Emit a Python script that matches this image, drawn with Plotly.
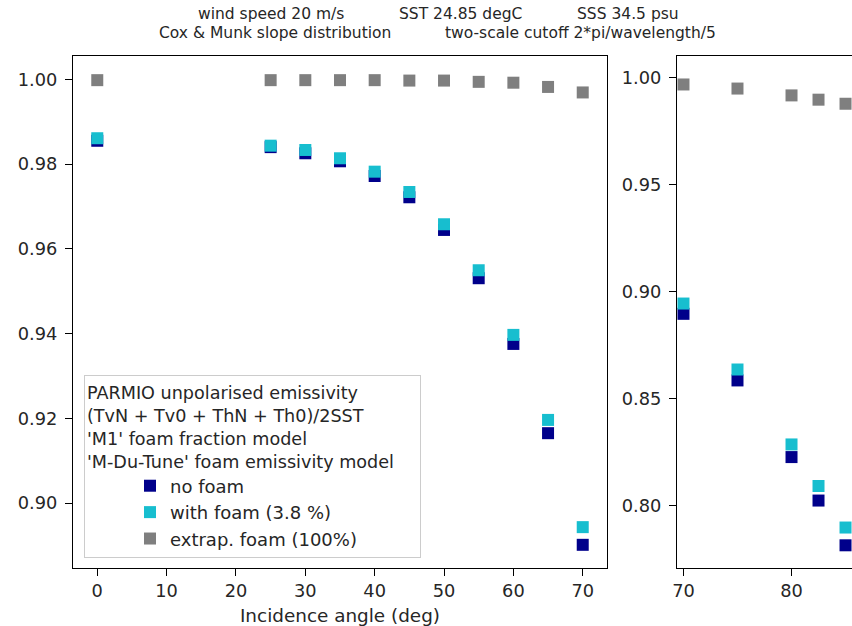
import plotly.graph_objects as go

# ---- data ----
angles_left = [0, 25, 30, 35, 40, 45, 50, 55, 60, 65, 70]
no_foam_left = [0.9855, 0.9840, 0.98255, 0.98066, 0.97719, 0.97217, 0.96446, 0.95307, 0.93757, 0.91651, 0.89017]
with_foam_left = [0.9861, 0.98434, 0.98333, 0.98137, 0.97821, 0.97342, 0.9658, 0.95495, 0.9397, 0.91964, 0.89434]
extrap_left = [0.9998, 0.9998, 0.9998, 0.9998, 0.9998, 0.9997, 0.9997, 0.9994, 0.9992, 0.9982, 0.9969]

angles_right = [70, 75, 80, 82.5, 85]
no_foam_right = [0.8897, 0.8586, 0.8228, 0.8025, 0.7816]
with_foam_right = [0.8945, 0.8637, 0.8287, 0.8093, 0.7899]
extrap_right = [0.9968, 0.9949, 0.9917, 0.9897, 0.9878]

series_names = ["no foam", "with foam (3.8 %)", "extrap. foam (100%)"]
series_colors = ["#00008b", "#17becf", "#7f7f7f"]

legend_title = ("PARMIO unpolarised emissivity<br>(TvN + Tv0 + ThN + Th0)/2SST<br>"
                "'M1' foam fraction model<br>'M-Du-Tune' foam emissivity model")

W, H = 852, 626
ML, MR, MT, MB = 73, 0, 56, 58
PW = W - ML - MR
PH = H - MT - MB
FONT = "DejaVu Sans"
TXT = "#262626"
PAD = "\u00a0" * 10  # widens the legend box to match the reference


def px_x(p):
    return (p - ML) / PW


def px_y(p):
    return (H - MB - p) / PH


fig = go.Figure()
left_sets = [no_foam_left, with_foam_left, extrap_left]
right_sets = [no_foam_right, with_foam_right, extrap_right]
order = [2, 0, 1]  # draw grey, navy, then cyan on top
for i in order:
    fig.add_trace(go.Scatter(
        x=angles_left, y=left_sets[i], mode="markers", name=series_names[i] + (PAD if i == 2 else ""),
        marker=dict(symbol="square", size=12, color=series_colors[i], line=dict(width=0)),
        xaxis="x", yaxis="y", legendrank=i + 1, showlegend=True))
for i in order:
    fig.add_trace(go.Scatter(
        x=angles_right, y=right_sets[i], mode="markers", name=series_names[i],
        marker=dict(symbol="square", size=12, color=series_colors[i], line=dict(width=0)),
        xaxis="x2", yaxis="y2", showlegend=False))

axis_common = dict(
    showline=True, linecolor="black", linewidth=1.2, ticks="outside", ticklen=7,
    tickwidth=1.2, tickcolor="black", showgrid=False, zeroline=False,
    tickfont=dict(family=FONT, size=17.8, color=TXT),
)

fig.update_layout(
    width=W, height=H,
    margin=dict(l=ML, r=MR, t=MT, b=MB),
    paper_bgcolor="white", plot_bgcolor="white",
    font=dict(family=FONT, size=18, color=TXT),
    xaxis=dict(domain=[0, px_x(607)], range=[-3.5, 73.5], tickvals=list(range(0, 71, 10)),
               mirror=True, anchor="y",
               title=dict(text="Incidence angle (deg)", standoff=8,
                          font=dict(family=FONT, size=18.4, color=TXT)),
               **axis_common),
    yaxis=dict(domain=[0, 1], range=[0.8847, 1.0055], tickvals=[0.90, 0.92, 0.94, 0.96, 0.98, 1.00],
               tickformat=".2f", mirror=True, anchor="x", ticklabelstandoff=4, **axis_common),
    xaxis2=dict(domain=[px_x(677), 1], range=[69.4, 85.6], tickvals=[70, 80, 90],
                mirror=True, anchor="y2", **axis_common),
    yaxis2=dict(domain=[0, 1], range=[0.771, 1.0101], tickvals=[0.80, 0.85, 0.90, 0.95, 1.00],
                tickformat=".2f", mirror=False, anchor="x2", ticklabelstandoff=4, **axis_common),
    legend=dict(
        x=px_x(84), y=px_y(375), xanchor="left", yanchor="top",
        bgcolor="white", bordercolor="#cccccc", borderwidth=1,
        font=dict(family=FONT, size=18, color=TXT),
        title=dict(text=legend_title, side="top",
                   font=dict(family=FONT, size=17.6, color=TXT)),
        indentation=45, tracegroupgap=0,
    ),
    showlegend=True,
)

header_pieces = [
    ("wind speed 20 m/s", 196, 14),
    ("SST 24.85 degC", 397, 14),
    ("SSS 34.5 psu", 575, 14),
    ("Cox & Munk slope distribution", 157, 33),
    ("two-scale cutoff 2*pi/wavelength/5", 443, 33),
]
for txt, xp, yp in header_pieces:
    fig.add_annotation(text=txt, xref="paper", yref="paper", x=px_x(xp), y=px_y(yp),
                       xanchor="left", yanchor="middle", showarrow=False,
                       font=dict(family=FONT, size=15.5, color=TXT))

fig.write_html("out.html")
